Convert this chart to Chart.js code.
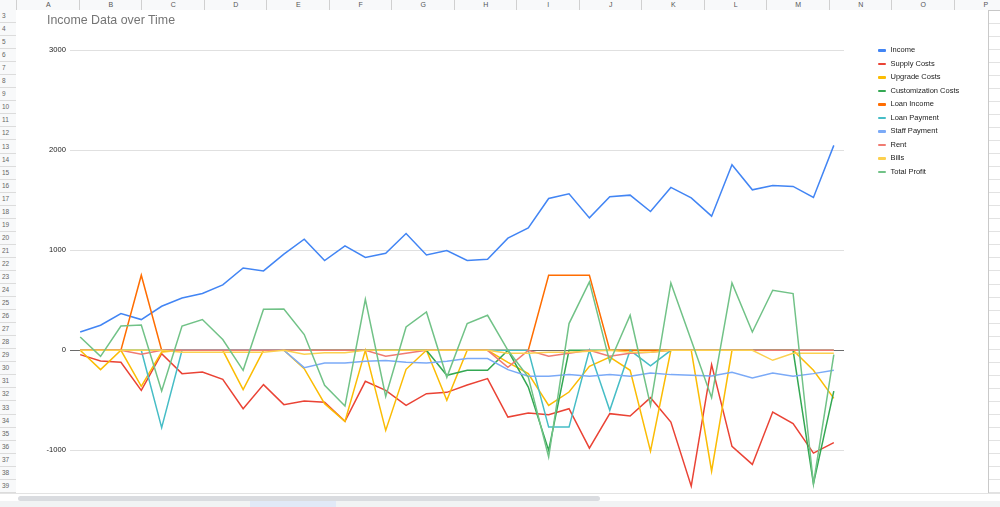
<!DOCTYPE html>
<html>
<head>
<meta charset="utf-8">
<script src="https://cdn.jsdelivr.net/npm/chart.js@4"></script>
<style>
  html,body{margin:0;padding:0;width:1000px;height:507px;overflow:hidden;background:#fff;font-family:Arial,"Liberation Sans",sans-serif;}
  #colhead{position:absolute;left:0;top:0;width:1000px;height:10px;background:#f8f9fa;border-bottom:1px solid #c7c7c7;}
  .col{position:absolute;top:0;height:10px;border-left:1px solid #d0d0d0;font-size:7px;line-height:9px;color:#555;text-align:center;}
  #rowhead{position:absolute;left:0;top:10px;width:16px;height:483px;background:#f8f9fa;border-right:1px solid #c7c7c7;overflow:hidden;}
  .row{position:absolute;left:0;width:16px;border-bottom:1px solid #dcdcdc;font-size:6.5px;color:#666;padding-left:2px;box-sizing:border-box;}
  #sheetlines{position:absolute;left:988px;top:10px;width:12px;height:483px;overflow:hidden;}
  .hl{position:absolute;left:0;width:12px;height:1px;background:#e2e2e2;}
  #box{position:absolute;left:16px;top:10px;width:972px;height:483px;background:#fff;border-right:1px solid #c9c9c9;overflow:hidden;}
  #chart{display:block;}
  #title{position:absolute;left:47px;top:13px;font-size:12.4px;color:#757575;}
  #legend{position:absolute;left:878px;top:44px;}
  .lg{position:absolute;left:0;height:12px;white-space:nowrap;font-size:7.5px;color:#222;}
  .sw{position:absolute;left:0;top:5px;width:7.5px;height:2.5px;border-radius:1px;}
  .lt{position:absolute;left:12.5px;top:0;line-height:12px;}
  #scroll{position:absolute;left:0;top:493px;width:1000px;height:8px;background:#fff;border-top:1px solid #e3e3e3;}
  #thumb{position:absolute;left:18px;top:2px;width:582px;height:5px;border-radius:3px;background:#dadce0;}
  #tabs{position:absolute;left:0;top:501px;width:1000px;height:6px;background:#f1f3f4;}
  #tab{position:absolute;left:250px;top:0;width:86px;height:6px;background:#e1e9f7;}
</style>
</head>
<body>
<div id="colhead"></div>
<div id="rowhead"></div>
<div id="sheetlines"></div>
<div id="box"><canvas id="chart" width="972" height="489"></canvas></div>
<div id="title">Income Data over Time</div>
<div id="legend"></div>
<div id="scroll"><div id="thumb"></div></div>
<div id="tabs"><div id="tab"></div></div>
<script>
const periods = ['1','2','3','4','5','6','7','8','9','10','11','12','13','14','15','16','17','18','19','20',
  '21','22','23','24','25','26','27','28','29','30','31','32','33','34','35','36','37','38'];
const seriesNames = ['Income','Supply Costs','Upgrade Costs','Customization Costs','Loan Income',
  'Loan Payment','Staff Payment','Rent','Bills','Total Profit'];
const seriesColors = ['#4285f4','#ea4335','#fbbc04','#34a853','#ff6d01','#46bdc6','#7baaf7','#f07b72','#fcd04f','#71c287'];
const yTicks = [-1000, 0, 1000, 2000, 3000];

const income = [183,250,367,307,440,523,567,653,823,793,960,1110,897,1043,927,970,1167,953,997,897,
  910,1120,1223,1517,1563,1323,1533,1550,1387,1627,1523,1340,1853,1603,1647,1637,1527,2047];
const supplyCosts = [-43,-107,-120,-400,-33,-233,-217,-290,-583,-343,-543,-507,-520,-710,-310,-400,-550,-433,-420,-347,
  -283,-667,-627,-643,-583,-977,-633,-657,-473,-717,-1357,-143,-960,-1140,-617,-733,-1027,-923];
const upgradeCosts = [0,-193,0,-360,-17,0,0,0,-393,0,0,-183,-533,-710,0,-800,-190,0,-500,0,
  0,-120,-233,-550,-417,-160,-67,-200,-1007,0,0,-1207,0,0,0,0,-200,-480];
const customizationCosts = [0,0,0,0,0,0,0,0,0,0,0,0,0,0,0,0,0,0,-250,-200,
  -200,0,-367,-1000,0,0,0,0,0,0,0,0,0,0,0,0,-1333,-407];
const loanIncome = [0,0,0,750,0,0,0,0,0,0,0,0,0,0,0,0,0,0,0,0,
  0,0,0,750,750,750,0,0,0,0,0,0,0,0,0,0,0,0];
const loanPayment = [null,null,null,0,-773,0,0,0,0,0,0,0,0,0,0,0,0,0,0,0,
  0,0,0,-767,-767,0,-600,0,-155,0,0,0,0,0,0,0,0,0];
const staffPayment = [null,null,null,0,0,0,0,0,0,0,0,-173,-127,-127,-110,-103,-120,-127,-110,-83,
  -83,-193,-260,-260,-243,-260,-243,-260,-227,-243,-250,-257,-220,-277,-227,-260,-233,-200];
const rent = [0,0,0,-40,0,0,0,0,0,0,0,0,0,0,0,-60,-30,0,0,0,
  0,-170,0,-60,-30,0,-60,-30,-20,0,0,0,0,0,0,0,0,0];
const bills = [0,0,0,0,0,-20,-20,-20,-20,-20,0,-40,-25,-25,0,0,0,0,0,0,
  0,-30,-30,-20,-20,-10,0,-20,-20,0,0,0,0,0,-100,-30,-30,-30];
const totalProfit = [133,-60,243,253,-407,243,307,107,-200,410,413,157,-350,-557,510,-460,233,383,-270,267,
  350,0,-267,-1067,267,683,-117,350,-550,673,100,-473,673,183,600,567,-1333,-43];

const seriesData = [income,supplyCosts,upgradeCosts,customizationCosts,loanIncome,loanPayment,staffPayment,rent,bills,totalProfit];

// spreadsheet chrome
const colLetters = ['A','B','C','D','E','F','G','H','I','J','K','L','M','N','O','P'];
const colhead = document.getElementById('colhead');
colLetters.forEach((c,i)=>{
  const d = document.createElement('div');
  d.className = 'col';
  d.style.left = (16 + i*62.5) + 'px';
  d.style.width = '62.5px';
  d.textContent = c;
  colhead.appendChild(d);
});
const rowhead = document.getElementById('rowhead');
const sheetlines = document.getElementById('sheetlines');
for(let r=3; r<=40; r++){
  const top = (r-3)*13.05;
  const d = document.createElement('div');
  d.className = 'row';
  d.style.top = top + 'px';
  d.style.height = '13.05px';
  d.style.lineHeight = '12px';
  d.textContent = r;
  rowhead.appendChild(d);
  const l = document.createElement('div');
  l.className = 'hl';
  l.style.top = (top + 12.5) + 'px';
  sheetlines.appendChild(l);
}

// legend
const legend = document.getElementById('legend');
seriesNames.forEach((n,i)=>{
  const it = document.createElement('div');
  it.className = 'lg';
  it.style.top = (i*13.5) + 'px';
  it.innerHTML = '<span class="sw" style="background:'+seriesColors[i]+'"></span><span class="lt"></span>';
  it.querySelector('.lt').textContent = n;
  legend.appendChild(it);
});

Chart.defaults.font.family = 'Arial, "Liberation Sans", sans-serif';
new Chart(document.getElementById('chart'), {
  type: 'line',
  data: {
    labels: periods,
    datasets: seriesNames.map((n,i)=>({
      label: n,
      data: seriesData[i],
      borderColor: seriesColors[i],
      backgroundColor: seriesColors[i],
      borderWidth: 1.5,
      pointRadius: 0,
      tension: 0,
      fill: false,
      order: seriesNames.length - i
    }))
  },
  options: {
    responsive: false,
    devicePixelRatio: 1,
    animation: false,
    layout: {autoPadding: false, padding: {left: 0, right: 144, top: 40, bottom: 3}},
    plugins: {legend: {display: false}, tooltip: {enabled: false}},
    scales: {
      x: {display: false, offset: true},
      y: {
        min: -1400, max: 3000,
        afterBuildTicks: s => { s.ticks = yTicks.map(v=>({value: v})); },
        afterFit: s => { s.width = 54; },
        border: {display: false},
        grid: {drawTicks: false, color: c => c.tick && c.tick.value === 0 ? '#6b6b6b' : '#e0e0e0'},
        ticks: {padding: 4, color: '#222', font: {size: 7.6}, callback: v => String(v)}
      }
    }
  }
});
</script>
</body>
</html>
